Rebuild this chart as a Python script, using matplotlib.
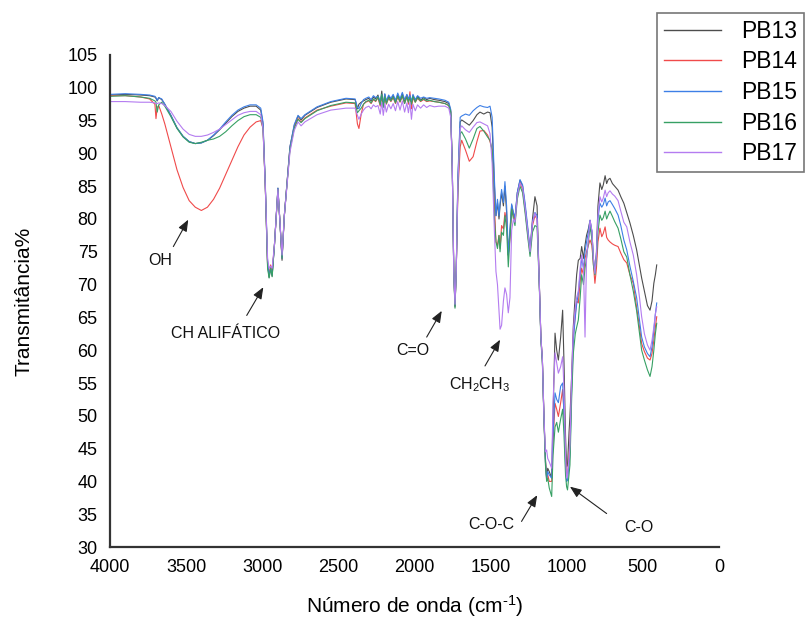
import matplotlib
matplotlib.use("Agg")
import matplotlib.pyplot as plt
import numpy as np

plt.rcParams['font.family'] = ['Liberation Sans', 'DejaVu Sans']
plt.rcParams['mathtext.default'] = 'regular'

# ---------------- data ----------------
wavenumber = [
    4000, 3900, 3800, 3740, 3705, 3698, 3690, 3680, 3660, 3640, 3600, 3560, 3520, 3480, 3440, 3400, 3360, 3320, 3280, 3240, 3200, 3160, 3120, 3080, 3040, 3010,
    2995, 2980, 2965, 2955, 2945, 2935, 2920, 2897, 2885, 2870, 2855, 2818, 2790, 2765, 2745, 2720, 2640, 2550, 2450, 2390, 2375, 2365, 2350, 2335,
    2320, 2300, 2285, 2270, 2255, 2240, 2225, 2215, 2205, 2195, 2185, 2170, 2155, 2140, 2125, 2110, 2095, 2080, 2065, 2050, 2040, 2030, 2020, 2010, 1995, 1980, 1960, 1940, 1920, 1900, 1870, 1840, 1800, 1775,
    1762, 1752, 1742, 1734, 1726, 1715, 1700, 1690, 1665, 1640, 1615, 1590, 1570, 1545, 1520, 1504, 1490, 1475, 1465, 1455, 1445, 1438, 1428, 1416, 1406, 1395, 1384, 1373, 1362, 1350, 1340, 1325, 1307, 1290, 1274, 1255, 1241, 1225, 1209, 1195,
    1180, 1170, 1160, 1150, 1140, 1132, 1125, 1115, 1099, 1090, 1077, 1066, 1055, 1040, 1027, 1018, 1008, 1001, 995, 985, 979, 968, 957, 944, 935, 924, 912, 902, 890, 880, 870, 858, 847, 835, 825, 815, 805, 795,
    782, 770, 760, 748, 738, 728, 716, 700, 685, 663, 645, 625, 606, 585, 563, 541, 522, 508, 490, 470, 453, 440, 428, 418, 409,
]

pb13 = [
    98.9, 99.0, 98.9, 98.8, 98.6, 98.4, 98.0, 98.5, 98.2, 97.5, 95.8, 93.9, 92.6, 91.8, 91.5, 91.6, 92.0, 92.7, 93.6, 94.6, 95.6, 96.4, 96.9, 97.2, 97.2, 96.6,
    94.5, 85.0, 73.0, 71.1, 72.5, 71.3, 76.0, 84.7, 80.0, 73.7, 80.5, 91.0, 94.2, 95.7, 95.1, 95.8, 97.0, 97.8, 98.3, 98.2, 96.8, 97.5, 97.8, 98.0,
    98.2, 98.4, 98.0, 98.6, 98.3, 98.9, 97.6, 99.5, 97.2, 99.0, 97.8, 98.7, 98.2, 98.8, 97.9, 98.9, 98.0, 99.1, 97.9, 98.9, 98.0, 98.7, 97.8, 98.8, 98.0, 98.7, 98.1, 98.5, 98.2, 98.4, 98.2, 98.1, 97.9, 97.6,
    96.5, 88.0, 72.0, 66.6, 72.0, 86.0, 94.8, 95.1, 94.7, 94.3, 95.0, 95.9, 96.3, 96.0, 96.3, 96.2, 94.0, 85.0, 80.5, 82.5, 80.0, 82.0, 84.0, 82.0, 85.0, 81.0, 74.5, 78.0, 82.1, 80.8, 80.0, 84.0, 85.9, 85.0, 82.0, 78.0, 75.2, 80.0, 83.4, 82.0,
    70.0, 62.0, 58.5, 50.0, 43.5, 40.5, 42.0, 41.5, 40.5, 50.0, 62.6, 60.0, 58.5, 62.0, 66.1, 58.0, 47.0, 42.2, 42.5, 47.5, 49.9, 56.0, 63.6, 68.5, 71.5, 73.7, 74.0, 75.8, 74.0, 76.0, 77.5, 78.5, 79.8, 78.0, 74.0, 71.7, 75.0, 82.0,
    85.5, 84.5, 85.2, 86.6, 85.4, 86.0, 86.2, 85.4, 85.0, 84.4, 83.4, 82.4, 81.0, 79.4, 77.5, 75.3, 72.8, 71.0, 69.0, 66.8, 66.1, 67.5, 70.2, 71.5, 73.0,
]

pb14 = [
    98.8, 98.8, 98.6, 98.3, 97.5, 95.3, 97.0, 97.3, 96.0, 94.5, 91.0, 87.5, 84.8, 82.8, 81.8, 81.3, 81.8, 83.0, 84.7, 86.8, 88.9, 91.0, 92.8, 94.0, 94.8, 95.0,
    93.8, 85.0, 73.0, 71.5, 73.0, 72.0, 76.0, 84.5, 80.0, 74.0, 80.5, 90.8, 94.0, 95.3, 94.8, 95.4, 96.6, 97.2, 97.7, 97.6, 94.5, 93.8, 96.0, 97.5,
    97.8, 98.0, 97.6, 98.2, 97.9, 98.5, 97.2, 98.6, 97.4, 98.8, 97.5, 98.4, 97.9, 98.5, 97.6, 98.6, 97.8, 98.7, 97.6, 98.8, 97.5, 99.4, 96.8, 98.5, 97.8, 98.4, 97.9, 98.2, 97.9, 98.0, 97.9, 97.8, 97.6, 97.3,
    96.3, 88.0, 72.0, 66.8, 72.0, 84.0, 91.0, 92.0, 90.5, 88.8, 89.5, 91.8, 93.4, 93.5, 92.8, 91.8, 90.5, 82.0, 76.5, 76.0, 77.5, 75.5, 79.0, 78.5, 81.0, 79.5, 74.5, 77.0, 81.5, 80.5, 79.5, 83.5, 85.5, 84.5, 81.5, 77.5, 74.8, 79.0, 80.5, 80.0,
    70.0, 62.0, 58.5, 50.0, 43.0, 40.5, 41.0, 40.0, 40.0, 46.0, 51.9, 51.0, 49.9, 52.0, 54.0, 50.5, 43.5, 41.0, 41.0, 44.0, 45.8, 54.5, 62.0, 65.5, 67.5, 67.2, 70.5, 72.5, 71.5, 74.0, 75.0, 76.0, 76.8, 76.0, 73.0, 70.2, 72.5, 76.5,
    78.6, 77.3, 77.8, 78.8, 77.2, 76.8, 76.5, 76.2, 76.0, 75.8, 74.8, 73.8, 73.3, 71.5, 70.2, 66.5, 63.5, 61.0, 59.8, 58.8, 58.5, 59.5, 61.5, 63.5, 65.1,
]

pb15 = [
    99.0, 99.1, 99.0, 98.9, 98.7, 98.5, 98.1, 98.5, 98.3, 97.5, 95.8, 93.9, 92.6, 91.8, 91.5, 91.6, 92.0, 92.8, 93.7, 94.8, 95.8, 96.6, 97.1, 97.4, 97.4, 96.9,
    94.8, 85.5, 73.5, 71.3, 72.5, 71.5, 76.0, 84.7, 80.0, 74.0, 80.5, 91.0, 94.4, 95.8, 95.3, 95.9, 97.1, 97.9, 98.4, 98.3, 97.0, 96.8, 97.6, 98.2,
    98.4, 98.6, 98.2, 98.8, 98.5, 98.7, 97.9, 99.0, 97.5, 99.1, 98.0, 98.9, 98.4, 99.0, 98.1, 99.2, 98.3, 99.3, 98.2, 99.0, 98.3, 98.9, 97.9, 99.0, 98.2, 98.8, 98.4, 98.6, 98.4, 98.5, 98.4, 98.3, 98.1, 97.8,
    96.7, 88.0, 72.0, 66.8, 72.0, 86.5, 95.5, 95.7, 96.0, 95.8, 96.5, 97.0, 97.3, 97.1, 97.0, 97.2, 95.5, 86.0, 80.5, 83.0, 80.5, 82.5, 84.5, 82.5, 85.7, 82.0, 74.5, 78.5, 82.3, 81.0, 80.2, 84.0, 86.0, 85.2, 82.5, 78.5, 75.2, 79.5, 81.0, 80.5,
    70.0, 62.0, 58.5, 50.0, 43.0, 40.2, 41.5, 41.0, 40.5, 47.0, 53.5, 52.5, 52.0, 54.5, 55.0, 50.0, 42.5, 40.0, 40.2, 42.5, 44.0, 54.0, 61.5, 65.0, 67.0, 68.7, 71.5, 74.0, 72.5, 75.0, 76.5, 78.0, 79.8, 78.2, 74.0, 71.7, 74.5, 80.0,
    82.4, 81.8, 82.2, 83.2, 82.0, 82.6, 82.8, 82.2, 81.6, 80.6, 79.0, 76.8, 75.3, 72.8, 70.5, 68.0, 64.5, 62.0, 60.5, 59.5, 59.0, 60.5, 63.0, 65.5, 67.2,
]

pb16 = [
    98.7, 98.8, 98.6, 98.4, 98.0, 97.8, 96.3, 97.4, 97.8, 97.2, 95.6, 93.8, 92.5, 91.7, 91.5, 91.7, 92.0, 92.2, 92.6, 93.3, 94.2, 95.0, 95.6, 95.9, 95.9, 95.5,
    93.8, 85.0, 72.5, 71.0, 72.5, 71.2, 76.0, 84.5, 80.0, 74.0, 80.5, 90.6, 93.8, 95.2, 94.7, 95.3, 96.5, 97.3, 97.8, 97.7, 96.2, 96.5, 96.9, 97.5,
    97.9, 98.1, 97.7, 98.3, 98.0, 98.6, 97.4, 99.0, 97.0, 98.7, 97.6, 98.5, 98.0, 98.6, 97.7, 98.7, 97.9, 98.8, 97.6, 98.6, 97.8, 98.5, 97.5, 98.7, 97.8, 98.5, 98.0, 98.3, 98.0, 98.1, 97.9, 97.8, 97.6, 97.3,
    96.3, 88.0, 71.5, 66.4, 72.0, 85.0, 93.0, 93.3, 92.2, 90.8, 92.2, 93.8, 94.1, 93.4, 92.5, 92.0, 90.5, 80.0, 76.5, 75.5, 77.5, 75.0, 78.0, 77.5, 80.5, 78.5, 72.7, 77.0, 81.5, 80.0, 79.0, 83.0, 85.0, 84.0, 81.0, 77.0, 74.3, 78.0, 79.0, 78.8,
    69.5, 61.5, 58.0, 49.5, 42.5, 40.0, 40.5, 39.0, 37.7, 44.0, 48.3, 49.0, 47.5, 49.5, 51.0, 47.0, 41.0, 39.2, 38.7, 41.0, 42.5, 52.5, 59.5, 62.5, 63.5, 64.6, 68.0, 71.5, 70.0, 72.5, 74.0, 76.5, 78.8, 77.0, 73.0, 71.5, 74.0, 78.0,
    80.6, 79.8, 80.2, 81.2, 80.0, 80.6, 81.2, 80.4, 79.6, 78.6, 77.0, 75.0, 74.2, 71.5, 69.0, 66.0, 62.5, 60.0, 58.5, 57.0, 56.0, 57.5, 60.0, 62.5, 64.1,
]

pb17 = [
    97.9, 97.9, 97.8, 97.8, 97.7, 97.6, 97.6, 97.7, 97.6, 97.3, 96.4, 94.9, 93.7, 92.9, 92.6, 92.6, 92.8, 93.2, 93.7, 94.4, 95.1, 95.8, 96.2, 96.4, 96.4, 95.9,
    93.8, 85.0, 74.0, 72.5, 72.8, 72.5, 76.0, 84.5, 80.0, 74.5, 80.5, 90.2, 93.5, 94.8, 94.2, 94.8, 95.9, 96.6, 96.9, 96.9, 95.8, 95.2, 96.0, 96.6,
    97.0, 97.2, 96.8, 97.4, 97.1, 97.3, 96.0, 97.8, 95.8, 97.6, 96.3, 97.5, 96.8, 97.6, 96.5, 97.9, 96.6, 98.0, 96.3, 97.7, 96.2, 97.8, 95.2, 97.5, 96.5, 97.4, 96.9, 97.4, 97.0, 97.3, 97.1, 97.2, 97.2, 96.9,
    95.5, 88.0, 72.0, 67.0, 72.0, 85.5, 93.8, 94.2, 93.6, 93.2, 94.0, 94.7, 94.8, 94.5, 94.2, 93.0, 88.5, 78.0, 72.0, 70.0, 66.0, 63.2, 63.8, 67.5, 69.5, 68.5, 65.7, 68.0, 78.3, 80.0, 79.5, 83.5, 85.5, 84.8, 81.8, 77.8, 75.0, 79.5, 80.9, 80.0,
    70.0, 62.0, 58.5, 50.0, 44.5, 44.8, 43.5, 43.0, 42.0, 52.0, 59.6, 58.0, 56.5, 57.5, 59.0, 54.0, 44.0, 40.5, 41.0, 43.5, 45.5, 56.0, 63.0, 66.5, 68.0, 69.0, 72.5, 74.5, 72.5, 62.0, 74.0, 77.0, 79.8, 78.2, 74.0, 71.7, 74.5, 80.5,
    83.4, 82.6, 83.2, 84.4, 83.4, 84.0, 84.3, 83.8, 83.5, 82.8, 81.2, 79.5, 78.8, 76.5, 74.5, 71.5, 68.0, 65.1, 62.5, 60.8, 60.0, 61.5, 63.5, 65.5, 66.6,
]

series_names = ["PB13", "PB14", "PB15", "PB16", "PB17"]
series_colors = ["#4d4d4d", "#f04a4a", "#3d7fe6", "#37a064", "#b47cf0"]

x_ticks = [4000, 3500, 3000, 2500, 2000, 1500, 1000, 500, 0]
y_ticks = list(range(30, 106, 5))

# annotations: (label, text position, arrow tail, arrow head) in data units
annotations = [
    ("OH", (3672, 73.7), (3584, 75.8), (3486, 79.9)),
    ("CH ALIFÁTICO", (3238, 62.6), (3102, 65.3), (2993, 69.6)),
    ("C=O", (2009, 60.0), (1920, 62.0), (1821, 66.0)),
    ("CH$_2$CH$_3$", (1570, 54.7), (1537, 57.6), (1438, 61.6)),
    ("C-O-C", (1498, 33.4), (1297, 33.9), (1194, 37.9)),
    ("C-O", (526, 33.0), (738, 35.1), (979, 39.2)),
]

# ---------------- plot ----------------
fig = plt.figure(figsize=(8.05, 6.26), dpi=100)
ax = fig.add_axes([110 / 805, 1 - 547 / 626, (719 - 110) / 805, (547 - 55) / 626])

for name, vals, col in zip(series_names, [pb13, pb14, pb15, pb16, pb17], series_colors):
    ax.plot(wavenumber, vals, color=col, lw=0.8, label=name)

ax.set_xlim(4000, 0)
ax.set_ylim(30, 105)
ax.set_xticks(x_ticks)
ax.set_yticks(y_ticks)
ax.tick_params(axis='both', length=0, labelsize=13)
ax.tick_params(axis='x', pad=9)
ax.tick_params(axis='y', pad=9)
for s in ['top', 'right']:
    ax.spines[s].set_visible(False)
for s in ['left', 'bottom']:
    ax.spines[s].set_color('#333333')
    ax.spines[s].set_linewidth(1.6)

ax.set_xlabel("Número de onda (cm$^{\u2010 1}$)", fontsize=15, labelpad=12)
ax.set_ylabel("Transmitância%", fontsize=15, labelpad=24)

for label, tpos, tail, head in annotations:
    ax.annotate("", xy=head, xytext=tail,
                arrowprops=dict(arrowstyle='-|>,head_length=0.7,head_width=0.28',
                                color='#222222', lw=0.8, shrinkA=0, shrinkB=0))
    ax.text(tpos[0], tpos[1], label, ha='center', va='center', fontsize=11.5, color='#111111')

leg = ax.legend(loc='upper left', bbox_to_anchor=(657 / 805, 1 - 13 / 626),
                bbox_transform=fig.transFigure, borderaxespad=0, fontsize=16.5,
                handlelength=2.5, handletextpad=0.85, labelspacing=0.33,
                borderpad=0.3, fancybox=False, framealpha=1)
leg.get_frame().set_edgecolor('#777777')
leg.get_frame().set_linewidth(1.2)
for line in leg.get_lines():
    line.set_linewidth(1.0)

fig.savefig("out.png", dpi=100)
